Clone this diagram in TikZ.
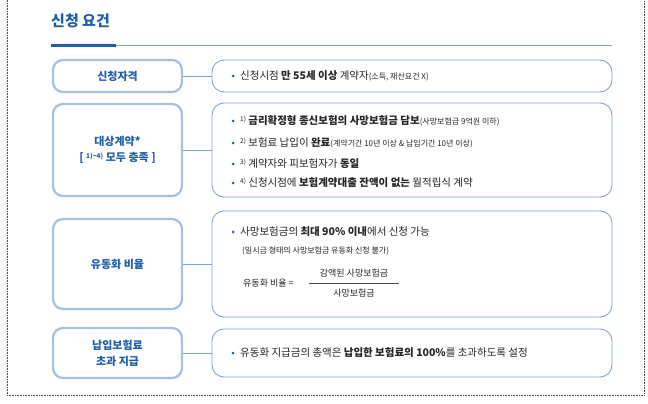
\documentclass[tikz,border=0pt]{standalone}
\usepackage{fontspec}
\setmainfont{Noto Sans CJK KR}
\newcommand{\smt}{\fontsize{8}{10}\selectfont}
\newcommand{\supn}[1]{{\fontsize{6.5}{8}\selectfont\raisebox{3.5pt}{#1}}}
\begin{document}
\begin{tikzpicture}[x=1pt,y=-1pt,
  lbox/.style={draw=cLine!70,line width=2.2pt,rounded corners=10pt,fill=white,text=cTitle,font=\bfseries\fontsize{11}{16}\selectfont,align=center,minimum width=129pt,inner sep=0pt},
  rbox/.style={draw=cLine,line width=0.9pt,rounded corners=12pt,fill=white,minimum width=400pt,inner sep=0pt},
  conn/.style={draw=cLine,line width=0.9pt},
  txt/.style={anchor=west,font=\fontsize{10.5}{12}\selectfont,text=black!85,inner sep=0pt},
  smtxt/.style={font=\fontsize{8}{10}\selectfont},
  dot/.style={circle,fill=cTitle,inner sep=0pt,minimum size=3pt}]
\definecolor{cTitle}{HTML}{1F5EA8}
\definecolor{cLine}{HTML}{7FA7D6}
\useasboundingbox (0,0) rectangle (648,404);
\draw[densely dotted,black!70,line width=0.6pt] (7,-5) -- (7,395) -- (644,395) -- (644,-5);
\node[anchor=west,text=cTitle,font=\bfseries\fontsize{15}{16}\selectfont,inner sep=0pt] (title) at (51,21) {신청 요건};
\draw[cLine,line width=0.8pt] (116,45) -- (612,45);
\draw[cTitle,line width=2.6pt] (51,45.5) -- (116,45.5);
% row 1
\node[lbox,minimum height=32pt] (l1) at (117.5,76) {신청자격};
\node[rbox,minimum height=32pt] (r1) at (412,76) {};
\draw[conn] (l1.east) -- (r1.west);
\node[dot] (d1) at (233,76) {};
\node[txt] (t1) at (240,76) {신청시점 \textbf{만 55세 이상} 계약자{\smt(소득, 재산요건 X)}};
% row 2
\node[lbox,minimum height=92pt] (l2) at (117.5,150) {대상계약*\\{[} \supn{1)\textasciitilde4)} 모두 충족 {]}};
\node[rbox,minimum height=94pt] (r2) at (412,150) {};
\draw[conn] (l2.east) -- (r2.west);
\node[dot] (d21) at (233,121) {};
\node[txt] (t21) at (240,121) {\supn{1)} \textbf{금리확정형 종신보험의 사망보험금 담보}{\smt(사망보험금 9억원 이하)}};
\node[dot] (d22) at (233,143) {};
\node[txt] (t22) at (240,143) {\supn{2)} 보험료 납입이 \textbf{완료}{\smt(계약기간 10년 이상 \& 납입기간 10년 이상)}};
\node[dot] (d23) at (233,164) {};
\node[txt] (t23) at (240,164) {\supn{3)} 계약자와 피보험자가 \textbf{동일}};
\node[dot] (d24) at (233,183) {};
\node[txt] (t24) at (240,183) {\supn{4)} 신청시점에 \textbf{보험계약대출 잔액이 없는} 월적립식 계약};
% row 3
\node[lbox,minimum height=90pt] (l3) at (117.5,264) {유동화 비율};
\node[rbox,minimum height=106pt] (r3) at (412,264) {};
\draw[conn] (l3.east) -- (r3.west);
\node[dot] (d3) at (233,232) {};
\node[txt] (t31) at (240,232) {사망보험금의 \textbf{최대 90\% 이내}에서 신청 가능};
\node[txt,smtxt] (t32) at (242,251) {(일시금 형태의 사망보험금 유동화 신청 불가)};
\node[txt,font=\fontsize{9}{10}\selectfont] (t33) at (243,283) {유동화 비율 =};
\node[font=\fontsize{9}{10}\selectfont,text=black!85,inner sep=0pt] (num) at (354,273) {감액된 사망보험금};
\node[font=\fontsize{9}{10}\selectfont,text=black!85,inner sep=0pt] (den) at (354,293) {사망보험금};
\draw[black!70,line width=0.6pt] (309,283) -- (399,283);
% row 4
\node[lbox,minimum height=50pt] (l4) at (117.5,353) {납입보험료\\초과 지급};
\node[rbox,minimum height=48pt] (r4) at (412,353) {};
\draw[conn] (l4.east) -- (r4.west);
\node[dot] (d4) at (233,353) {};
\node[txt] (t4) at (240,353) {유동화 지급금의 총액은 \textbf{납입한 보험료의 100\%}를 초과하도록 설정};
\end{tikzpicture}
\end{document}
